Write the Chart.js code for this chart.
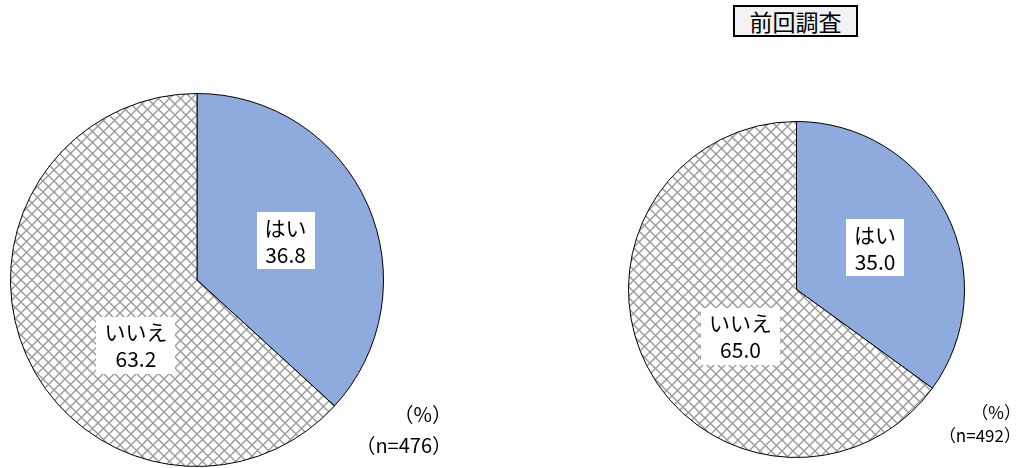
<!DOCTYPE html>
<html>
<head>
<meta charset="utf-8">
<script src="https://cdn.jsdelivr.net/npm/chart.js@4.4.0/dist/chart.umd.min.js"></script>
<style>
  html, body { margin: 0; padding: 0; background: #fff; width: 1030px; height: 468px; overflow: hidden; }
  body { position: relative; font-family: "Noto Sans CJK JP", sans-serif; color: #000; }
  .pie { position: absolute; }
  .title { position: absolute; left: 733px; top: 5px; width: 121px; height: 28px; border: 2px solid #000;
           background: #f2f2f2; font-size: 23px; line-height: 28px; text-align: center; }
  .note { position: absolute; text-align: right; white-space: nowrap; }
</style>
</head>
<body>
<div class="title">前回調査</div>
<div class="pie" style="left:10px; top:93px; width:374px; height:374px;"><canvas id="pieNow"></canvas></div>
<div class="pie" style="left:628px; top:121px; width:337px; height:337px;"><canvas id="pieBefore"></canvas></div>
<div class="note" style="right:578px; top:398px; font-size:20px; line-height:31px;">（%）<br>（n=476）</div>
<div class="note" style="right:9px; top:400px; font-size:17px; line-height:23px;">（%）<br>（n=492）</div>
<script>
var categories = ['はい', 'いいえ'];
var currentValues = [36.8, 63.2];
var previousValues = [35.0, 65.0];

// crosshatch fill for "いいえ"
function makeHatch() {
    var c = document.createElement('canvas');
    c.width = 11;
    c.height = 11;
    var g = c.getContext('2d');
    g.fillStyle = '#ffffff';
    g.fillRect(0, 0, 11, 11);
    g.strokeStyle = '#9a9a9a';
    g.lineWidth = 1.4;
    g.beginPath();
    g.moveTo(-1, -1); g.lineTo(12, 12);
    g.moveTo(12, -1); g.lineTo(-1, 12);
    g.stroke();
    return g.createPattern(c, 'repeat');
}

// white label boxes, placed by angle (deg from top) and fraction of radius
var sliceLabels = {
    id: 'sliceLabels',
    afterDatasetsDraw: function (chart, args, opts) {
        var ctx = chart.ctx;
        var meta = chart.getDatasetMeta(0);
        var values = chart.data.datasets[0].data;
        ctx.save();
        ctx.font = '21px "Noto Sans CJK JP", sans-serif';
        ctx.textAlign = 'center';
        ctx.textBaseline = 'middle';
        meta.data.forEach(function (arc, i) {
            var spot = opts.spots[i];
            var a = spot.a * Math.PI / 180;
            var px = arc.x + spot.f * arc.outerRadius * Math.sin(a);
            var py = arc.y - spot.f * arc.outerRadius * Math.cos(a);
            var lines = [chart.data.labels[i], values[i].toFixed(1)];
            var w = Math.max(ctx.measureText(lines[0]).width, ctx.measureText(lines[1]).width) + 16;
            var h = 57;
            ctx.fillStyle = '#ffffff';
            ctx.fillRect(Math.round(px - w / 2), Math.round(py - h / 2), Math.round(w), h);
            ctx.fillStyle = '#000000';
            ctx.fillText(lines[0], px, py - 13);
            ctx.fillText(lines[1], px, py + 14);
        });
        ctx.restore();
    }
};

function drawPie(id, values, spots) {
    var ctx = document.getElementById(id);
    return new Chart(ctx, {
        type: 'pie',
        data: {
            labels: categories,
            datasets: [{
                data: values,
                backgroundColor: ['#8faadc', makeHatch()],
                borderColor: '#000000',
                borderWidth: 1
            }]
        },
        options: {
            responsive: true,
            maintainAspectRatio: false,
            animation: false,
            events: [],
            layout: { padding: 0 },
            plugins: {
                legend: { display: false },
                tooltip: { enabled: false },
                sliceLabels: { spots: spots }
            }
        },
        plugins: [sliceLabels]
    });
}

drawPie('pieNow', currentValues, [{ a: 66, f: 0.52 }, { a: 223, f: 0.48 }]);
drawPie('pieBefore', previousValues, [{ a: 62, f: 0.53 }, { a: 230, f: 0.435 }]);
</script>
</body>
</html>
